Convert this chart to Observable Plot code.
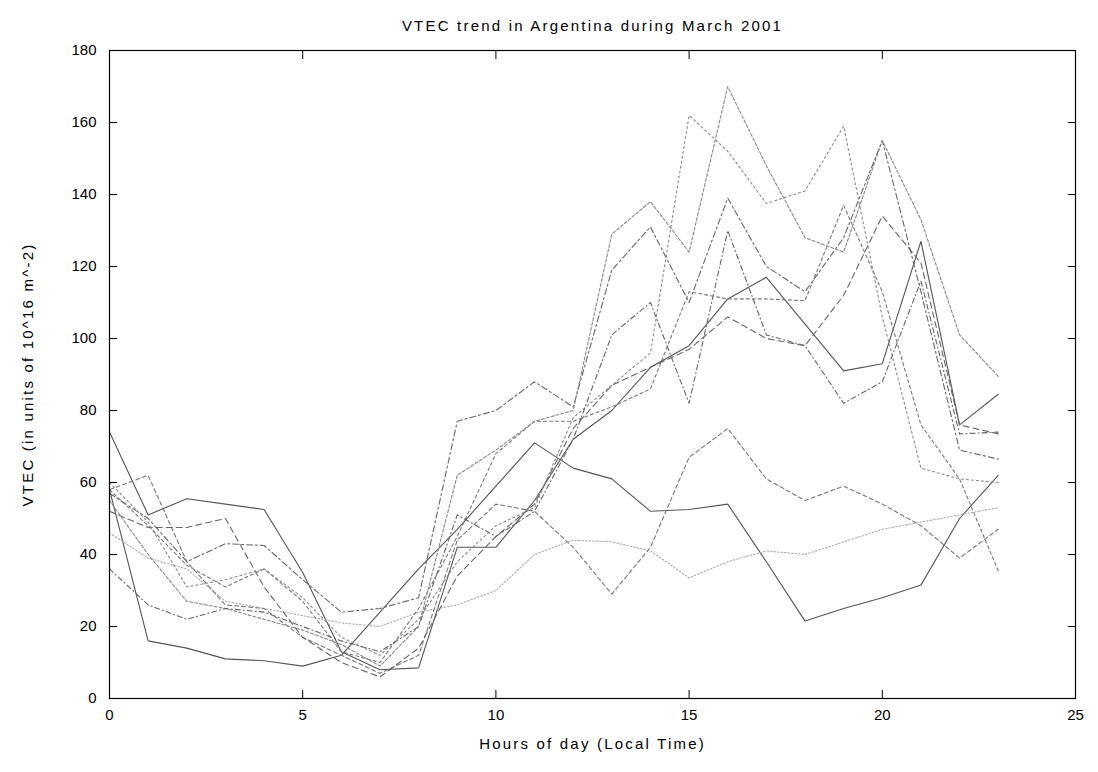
<!DOCTYPE html>
<html><head><meta charset="utf-8">
<script src="https://cdn.jsdelivr.net/npm/d3@7"></script>
<script src="https://cdn.jsdelivr.net/npm/@observablehq/plot@0.6"></script>
<style>body{margin:0;background:#fff} svg{display:block}</style>
</head><body><div id="chart"></div>
<script>
const title = "VTEC trend in Argentina during March 2001";
const xLabel = "Hours of day (Local Time)";
const yLabel = "VTEC (in units of 10^16 m^-2)";
const hours = [0,1,2,3,4,5,6,7,8,9,10,11,12,13,14,15,16,17,18,19,20,21,22,23];
const xTicks = [0,5,10,15,20,25];
const yTicks = [0,20,40,60,80,100,120,140,160,180];

const seriesA = [74,51,55.5,54,52.5,35,13,8,8.5,42,42,55,72,80,92,98,111,117,104,91,93,127,76,84.5];
const seriesB = [58,16,14,11,10.5,9,12,24,36,47,59,71,64,61,52,52.5,54,38,21.5,25,28,31.5,50,62];
const seriesC = [46,39,36,27,25,23,21,20,24,26,30,40,44,43.5,41,33.5,38,41,40,43.5,47,49,51,53];
const seriesD = [58,62,38,26,25,17,12,7,12,44,54,52,42,29,42,67,75,61,55,59,54,48,39,47];
const seriesE = [52,47.5,47.5,50,31,17,10,6,14,34,45,54,75,87,92,97,106,100,98,112,134,121,76,73.5];
const seriesF = [57,50,38,43,42.5,33,24,25,28,77,80,88,81,119,131,110,139,120,113,128,155,113,69,66.5];
const seriesG = [58,48,37,31,36,27,13,10,25,45,68,77,77,81,86,113,111,111,110.5,137,113,76,61,35.5];
const seriesH = [60,49,31,33,36,28,17,12,22,38,48,53,78,87,96,162,152,137.5,141,159,106,64,61,60];
const seriesI = [55,40,27,25,22,19,15,9,20,62,69,77,80,129,138,124,170,148,128,124,155,133,101,89.5];
const seriesJ = [36,26,22,25,24,20,16,13,20,51,45,52,72,101,110,82,130,101,98,82,88,116,73.5,74];

const seriesList = [
  {name:"A", values: seriesA, stroke:"#555", dash:null},
  {name:"B", values: seriesB, stroke:"#555", dash:null},
  {name:"C", values: seriesC, stroke:"#aaa", dash:"1.5,2"},
  {name:"D", values: seriesD, stroke:"#777", dash:"4,3"},
  {name:"E", values: seriesE, stroke:"#666", dash:"6,4"},
  {name:"F", values: seriesF, stroke:"#666", dash:"6,3,2,3"},
  {name:"G", values: seriesG, stroke:"#777", dash:"3,3"},
  {name:"H", values: seriesH, stroke:"#888", dash:"2,3"},
  {name:"I", values: seriesI, stroke:"#888", dash:"3,2"},
  {name:"J", values: seriesJ, stroke:"#666", dash:"5,3,1,3"}
];

const rows = seriesList.map(s => hours.map((h, i) => ({series: s.name, hour: h, vtec: s.values[i]})));

const font = "'Liberation Sans', Arial, sans-serif";
const chart = Plot.plot({
  width: 1098,
  height: 772,
  marginLeft: 109,
  marginRight: 23,
  marginTop: 50,
  marginBottom: 74,
  style: {fontFamily: font, fontSize: "15px", color: "#000", background: "#fff"},
  x: {domain: [0, 25], ticks: xTicks},
  y: {domain: [0, 180], ticks: yTicks},
  marks: [
    ...seriesList.map((s, k) => Plot.line(rows[k], {
      x: "hour", y: "vtec", stroke: s.stroke, strokeWidth: 1.1,
      strokeDasharray: s.dash
    })),
    Plot.frame({stroke: "#000", strokeWidth: 1.2}),
    Plot.axisY(yTicks, {anchor: "left", tickSize: -8, tickPadding: 21, label: yLabel, labelArrow: "none", labelAnchor: "center", labelOffset: 87, fontSize: 15}),
    Plot.axisY(yTicks, {anchor: "right", tickSize: -8, tickFormat: () => "", label: null}),
    Plot.axisX(xTicks, {anchor: "bottom", tickSize: -8, tickPadding: 19, label: xLabel, labelArrow: "none", labelAnchor: "center", labelOffset: 50, fontSize: 15}),
    Plot.axisX(xTicks, {anchor: "top", tickSize: -8, tickFormat: () => "", label: null}),
    Plot.text([title], {frameAnchor: "top", dy: -30, fontSize: 15, fill: "#000"})
  ]
});
d3.select(chart)
  .selectAll('g[aria-label="x-axis label"] text, g[aria-label="y-axis label"] text, g[aria-label="text"] text')
  .style("letter-spacing", "2.2px");
document.getElementById("chart").appendChild(chart);
</script>
</body></html>
